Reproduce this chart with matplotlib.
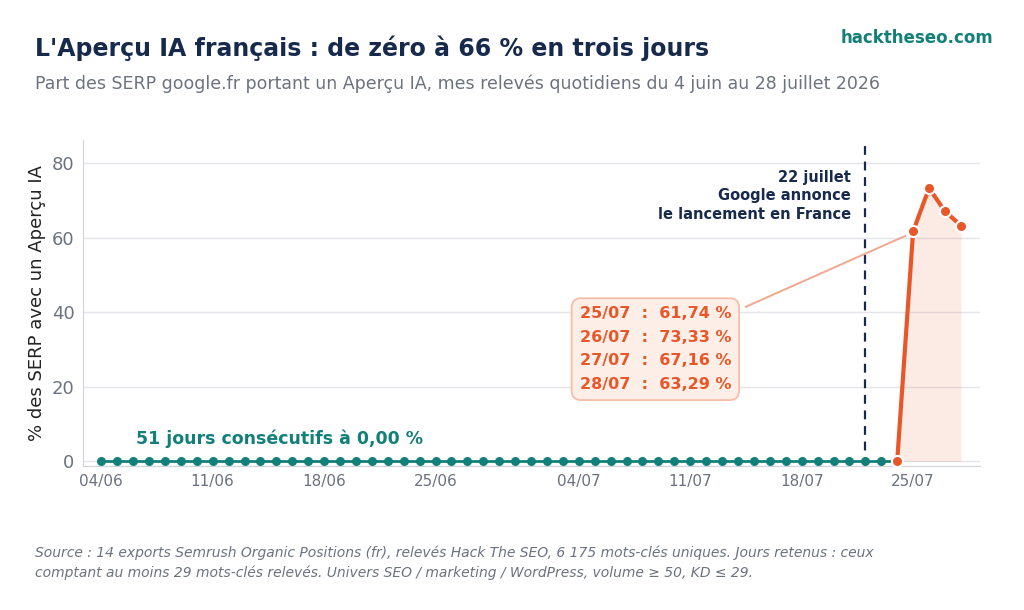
import matplotlib.pyplot as plt
import matplotlib.dates as mdates
import numpy as np
import pandas as pd

# daily readings, 04/06 -> 24/07 : all zero (51 days)
zero_start = "2026-06-04"
zero_values = [
    0.0, 0.0, 0.0, 0.0, 0.0, 0.0, 0.0, 0.0, 0.0, 0.0,
    0.0, 0.0, 0.0, 0.0, 0.0, 0.0, 0.0, 0.0, 0.0, 0.0,
    0.0, 0.0, 0.0, 0.0, 0.0, 0.0, 0.0, 0.0, 0.0, 0.0,
    0.0, 0.0, 0.0, 0.0, 0.0, 0.0, 0.0, 0.0, 0.0, 0.0,
    0.0, 0.0, 0.0, 0.0, 0.0, 0.0, 0.0, 0.0, 0.0, 0.0,
    0.0,
]
# launch period, 24/07 -> 28/07
launch_start = "2026-07-24"
launch_values = [0.0, 61.74, 73.33, 67.16, 63.29]

announce_date = "2026-07-22"
tick_dates = ["2026-06-04", "2026-06-11", "2026-06-18", "2026-06-25",
              "2026-07-04", "2026-07-11", "2026-07-18", "2026-07-25"]
box_lines = ["25/07  :  61,74 %", "26/07  :  73,33 %",
             "27/07  :  67,16 %", "28/07  :  63,29 %"]

TEAL = "#127f78"
ORANGE = "#e8572a"
NAVY = "#172a4c"
GRAY = "#6b7280"

zero_dates = pd.date_range(zero_start, periods=len(zero_values), freq="D")
launch_dates = pd.date_range(launch_start, periods=len(launch_values), freq="D")

fig = plt.figure(figsize=(10.24, 6.10), dpi=100)
ax = fig.add_axes([0.081, 0.236, 0.876, 0.534])

ax.plot(zero_dates, zero_values, color=TEAL, lw=2.0, marker="o", ms=5.5,
        markeredgecolor=TEAL, zorder=3)
ax.fill_between(launch_dates, launch_values, 0, color=ORANGE, alpha=0.12,
                lw=0, zorder=1)
ax.plot(launch_dates, launch_values, color=ORANGE, lw=3, marker="o", ms=8,
        markeredgecolor="white", markeredgewidth=1.5, zorder=4)

ann = pd.Timestamp(announce_date)
ax.axvline(ann, color=NAVY, lw=1.6, ls=(0, (4, 3)), zorder=2)
ax.text(ann - pd.Timedelta(days=0.9), 78.3,
        "22 juillet\nGoogle annonce\nle lancement en France",
        ha="right", va="top", fontsize=10.5, fontweight="bold", color=NAVY,
        linespacing=1.3)

# box with the four readings
ax.text(pd.Timestamp("2026-07-04") + pd.Timedelta(days=0.05), 30.1,
        "\n".join(box_lines), ha="left", va="center", fontsize=11.5,
        fontweight="bold", color=ORANGE, linespacing=1.72, zorder=5,
        bbox=dict(boxstyle="round,pad=0.5,rounding_size=0.6",
                  fc="#fdeee7", ec="#f6bea6", lw=1.3))
ax.plot([pd.Timestamp("2026-07-14") + pd.Timedelta(days=0.5),
         launch_dates[1] - pd.Timedelta(days=0.5)],
        [41.5, 60.5], color="#eea88e", lw=1.4, zorder=2)

ax.text(pd.Timestamp("2026-06-06") + pd.Timedelta(days=0.2), 6,
        "51 jours consécutifs à 0,00 %", color=TEAL, fontsize=12.5,
        fontweight="bold", ha="left", va="center")

ax.set_xlim(pd.Timestamp(zero_start) - pd.Timedelta(days=1.15),
            pd.Timestamp("2026-07-28") + pd.Timedelta(days=1.2))
ax.set_ylim(-1.3, 86.2)
ax.set_yticks([0, 20, 40, 60, 80])
ax.set_xticks(pd.to_datetime(tick_dates))
ax.xaxis.set_major_formatter(mdates.DateFormatter("%d/%m"))
ax.tick_params(axis="y", labelsize=13, colors=GRAY, length=0, pad=6)
ax.tick_params(axis="x", labelsize=11, colors=GRAY, length=0, pad=6)
ax.grid(axis="y", color="#e3e5ea", lw=1)
ax.set_axisbelow(True)
for s in ["top", "right"]:
    ax.spines[s].set_visible(False)
for s in ["left", "bottom"]:
    ax.spines[s].set_color("#cfd3da")
ax.set_ylabel("% des SERP avec un Aperçu IA", fontsize=13, color="#222222")

fig.text(0.034, 0.921, "L'Aperçu IA français : de zéro à 66 % en trois jours",
         fontsize=17, fontweight="bold", color=NAVY, va="center")
fig.text(0.034, 0.862,
         "Part des SERP google.fr portant un Aperçu IA, mes relevés quotidiens du 4 juin au 28 juillet 2026",
         fontsize=12.5, color=GRAY, va="center")
fig.text(0.970, 0.938, "hacktheseo.com", fontsize=12, fontweight="bold",
         color=TEAL, ha="right", va="center")
fig.text(0.034, 0.077,
         "Source : 14 exports Semrush Organic Positions (fr), relevés Hack The SEO, 6 175 mots-clés uniques. Jours retenus : ceux\n"
         "comptant au moins 29 mots-clés relevés. Univers SEO / marketing / WordPress, volume ≥ 50, KD ≤ 29.",
         fontsize=10, style="italic", color=GRAY, va="center", linespacing=1.5)

fig.savefig("out.png", dpi=100)
